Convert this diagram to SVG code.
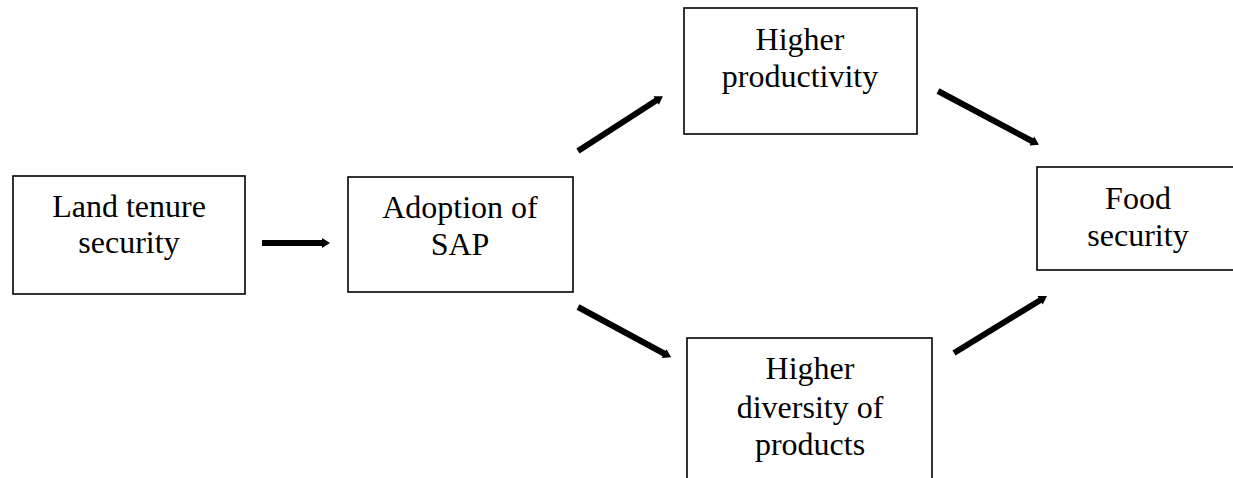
<svg xmlns="http://www.w3.org/2000/svg" width="1233" height="478" viewBox="0 0 1233 478">
<style>
.box{fill:#fff;stroke:#000;stroke-width:1.6}
.t{font-family:"Liberation Serif","Times New Roman",serif;font-size:32px;fill:#000;text-anchor:middle}
.c{stroke:#000;stroke-width:6;fill:none;marker-end:url(#ah)}
</style>
<defs>
<marker id="ah" markerUnits="userSpaceOnUse" markerWidth="12" markerHeight="12" viewBox="0 -6 10 12" refX="1" refY="0" orient="auto">
<path d="M0,-5 L8,0 L0,5 z" fill="#000"/>
</marker>
</defs>
<rect width="1233" height="478" fill="#fff"/>
<g id="connectors">
<line class="c" x1="262" y1="243" x2="323" y2="243"/>
<line class="c" x1="578" y1="151" x2="657" y2="100"/>
<line class="c" x1="578" y1="307" x2="665" y2="354"/>
<line class="c" x1="938" y1="91" x2="1032.8" y2="141.5"/>
<line class="c" x1="954" y1="353" x2="1041" y2="299.7"/>
</g>
<g id="land">
<rect class="box" x="13" y="176" width="232" height="118"/>
<text class="t" x="129" y="217">Land tenure</text>
<text class="t" x="129" y="253">security</text>
</g>
<g id="adoption">
<rect class="box" x="348" y="177" width="225" height="115"/>
<text class="t" x="460" y="218">Adoption of</text>
<text class="t" x="460" y="255">SAP</text>
</g>
<g id="productivity">
<rect class="box" x="684" y="8" width="233" height="126"/>
<text class="t" x="800" y="50">Higher</text>
<text class="t" x="800" y="87">productivity</text>
</g>
<g id="food">
<rect class="box" x="1037" y="167" width="210" height="103"/>
<text class="t" x="1138" y="209">Food</text>
<text class="t" x="1138" y="246">security</text>
</g>
<g id="diversity">
<rect class="box" x="687" y="338" width="245" height="160"/>
<text class="t" x="810" y="379">Higher</text>
<text class="t" x="810" y="418">diversity of</text>
<text class="t" x="810" y="455">products</text>
</g>
</svg>
